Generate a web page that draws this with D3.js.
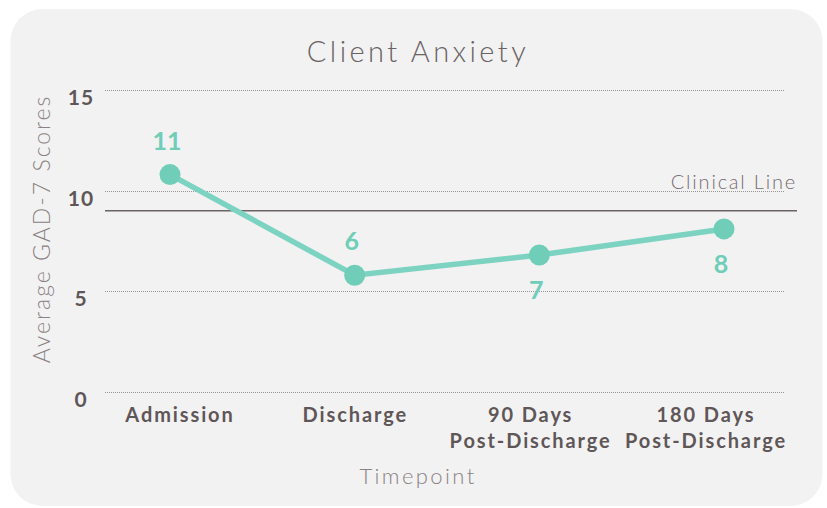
<!DOCTYPE html>
<html>
<head>
<meta charset="utf-8">
<script src="https://cdn.jsdelivr.net/npm/d3@7"></script>
<style>
  html, body { margin: 0; padding: 0; background: #ffffff; }
  svg { display: block; }
  text { font-family: Lato, "Open Sans", sans-serif; }
</style>
</head>
<body>
<svg id="chart" width="827" height="508"></svg>
<script>
// ---- data ----
const categories = ["Admission", "Discharge", "90 Days\nPost-Discharge", "180 Days\nPost-Discharge"];
const scores = [10.8, 5.8, 6.8, 8.1];
const scoreLabels = ["11", "6", "7", "8"];
const labelPlacement = ["above", "above", "below", "below"];
const yTicks = [0, 5, 10, 15];
const clinicalLine = 9;
const clinicalLabel = "Clinical Line";
const chartTitle = "Client Anxiety";
const xTitle = "Timepoint";
const yTitle = "Average GAD-7 Scores";

// ---- styles ----
const teal = "#6fcdb8";
const tealLine = "#7dd3c1";
const dark = "#5f5658";
const mid = "#6a6264";
const light = "#8a8284";

const svg = d3.select("#chart");

// card background
svg.append("rect")
  .attr("x", 10.5).attr("y", 9)
  .attr("width", 812).attr("height", 497)
  .attr("rx", 32).attr("ry", 32)
  .attr("fill", "#f2f2f2");

const plotLeft = 105, plotRight = 784, plotTop = 90, plotBottom = 392;

const y = d3.scaleLinear().domain([0, 15]).range([plotBottom, plotTop]);
const xPoint = d3.scalePoint().domain(categories).range([170, 724]);
const xLabel = d3.scalePoint().domain(categories).range([180, 706]);

// gridlines
svg.append("g").selectAll("line")
  .data(yTicks)
  .join("line")
  .attr("x1", plotLeft).attr("x2", plotRight)
  .attr("y1", d => Math.round(y(d)) + 0.5)
  .attr("y2", d => Math.round(y(d)) + 0.5)
  .attr("stroke", "#9a9494")
  .attr("stroke-width", 1)
  .attr("stroke-dasharray", "1,1");

// y tick labels
svg.append("g").selectAll("text")
  .data(yTicks)
  .join("text")
  .attr("x", 81)
  .attr("y", d => y(d) + 15)
  .attr("text-anchor", "middle")
  .attr("font-size", 21)
  .attr("font-weight", 700)
  .attr("letter-spacing", 1)
  .attr("fill", dark)
  .text(d => d);

// clinical line
svg.append("line")
  .attr("x1", plotLeft).attr("x2", 797)
  .attr("y1", y(clinicalLine)).attr("y2", y(clinicalLine))
  .attr("stroke", "#6b6365")
  .attr("stroke-width", 1.5);

svg.append("text")
  .attr("x", 797).attr("y", y(clinicalLine) - 22)
  .attr("text-anchor", "end")
  .attr("font-size", 20)
  .attr("font-weight", 300)
  .attr("letter-spacing", 1.8)
  .attr("fill", "#756d6f")
  .text(clinicalLabel);

// data line
const pts = categories.map((c, i) => ({ c, v: scores[i], label: scoreLabels[i], place: labelPlacement[i] }));
svg.append("path")
  .datum(pts)
  .attr("fill", "none")
  .attr("stroke", tealLine)
  .attr("stroke-width", 5.5)
  .attr("d", d3.line().x(d => xPoint(d.c)).y(d => y(d.v)));

svg.append("g").selectAll("circle")
  .data(pts)
  .join("circle")
  .attr("cx", d => xPoint(d.c))
  .attr("cy", d => y(d.v))
  .attr("r", 10.5)
  .attr("fill", teal);

svg.append("g").selectAll("text")
  .data(pts)
  .join("text")
  .attr("x", d => xPoint(d.c) - 3)
  .attr("y", d => d.place === "above" ? y(d.v) - 25 : y(d.v) + 44)
  .attr("text-anchor", "middle")
  .attr("font-size", 25)
  .attr("font-weight", 700)
  .attr("fill", teal)
  .text(d => d.label);

// x category labels
const xl = svg.append("g").selectAll("text")
  .data(categories)
  .join("text")
  .attr("text-anchor", "middle")
  .attr("font-size", 20)
  .attr("font-weight", 700)
  .attr("letter-spacing", 1.9)
  .attr("fill", dark);
xl.each(function(d) {
  const lines = d.split("\n");
  d3.select(this).selectAll("tspan")
    .data(lines)
    .join("tspan")
    .attr("x", xLabel(d))
    .attr("y", (l, i) => 422 + i * 25.5)
    .text(l => l);
});

// title
svg.append("text")
  .attr("x", 418).attr("y", 62)
  .attr("text-anchor", "middle")
  .attr("font-size", 29)
  .attr("font-weight", 300)
  .attr("letter-spacing", 3.4)
  .attr("fill", mid)
  .text(chartTitle);

// x title
svg.append("text")
  .attr("x", 418).attr("y", 484)
  .attr("text-anchor", "middle")
  .attr("font-size", 22)
  .attr("font-weight", 300)
  .attr("letter-spacing", 2.4)
  .attr("fill", light)
  .text(xTitle);

// y title
svg.append("text")
  .attr("transform", "translate(50,229) rotate(-90)")
  .attr("text-anchor", "middle")
  .attr("font-size", 23)
  .attr("font-weight", 300)
  .attr("letter-spacing", 2)
  .attr("fill", light)
  .text(yTitle);
</script>
</body>
</html>
